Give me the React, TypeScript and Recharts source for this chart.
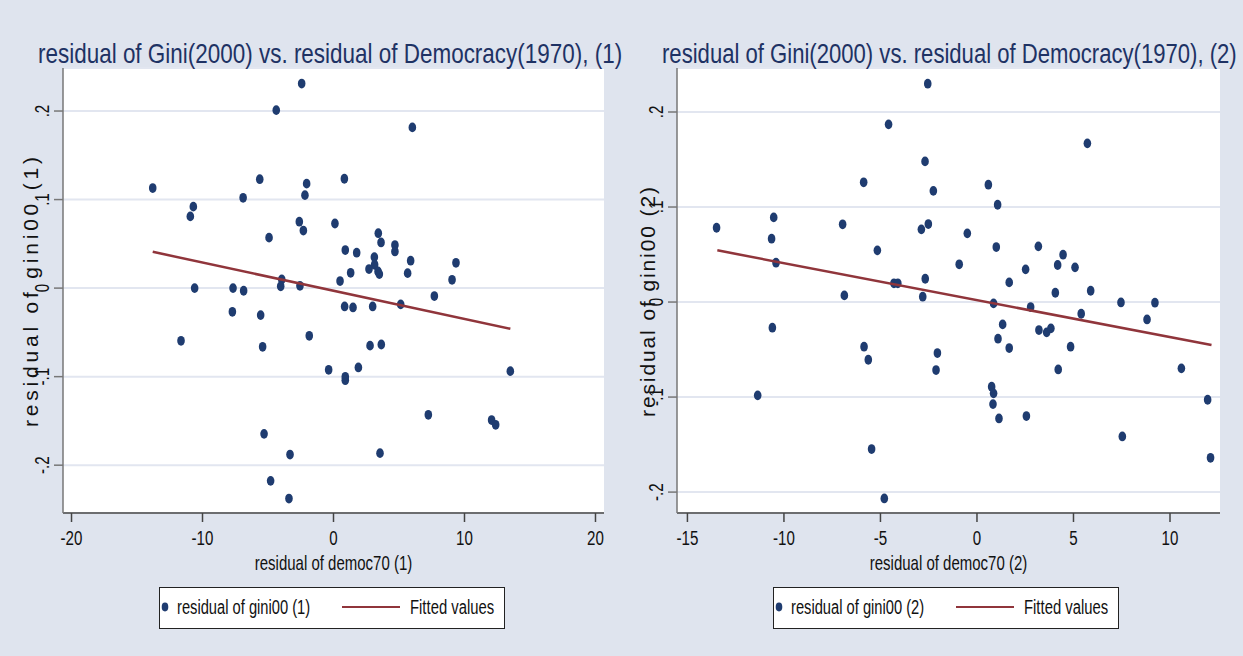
import React from "react";
import { ScatterChart, Scatter, XAxis, YAxis, CartesianGrid, Legend, Label } from "recharts";

const BG = "#dfe4ee";
const NAVY = "#1f3c70";
const MAROON = "#90353b";
const GRID = "#e2e6f0";
const FONT = "'Liberation Sans', Arial, sans-serif";

// panel (1): residual of democ70 (x) vs residual of gini00 (y)
const democ1 = [
  -13.8, -10.7, -10.93, -6.9, -5.63, -4.92, -4.37, -2.43, -2.05, -2.18, -2.61, -2.3, 0.11, -10.6, -7.67, -6.86,
  -3.95, -4.03, -2.56, 0.5, 6.02, 0.83, 3.42, 3.63, 0.9, 1.77, 4.69, 4.69, 3.12, 3.14, 2.71, 3.4, 3.5, 5.89, 5.66,
  1.31, 9.35, 9.05, 7.7, -7.72, -5.56, -11.64, -5.41, -1.85, -0.37, -5.3, -3.32, -4.8, -3.4, 0.85, 1.49, 2.99,
  5.13, 2.79, 3.65, 0.9, 0.9, 1.9, 13.5, 7.24, 12.07, 12.38, 3.55,
];
const gini1 = [
  0.113, 0.092, 0.081, 0.102, 0.123, 0.057, 0.201, 0.231, 0.118, 0.105, 0.075, 0.065, 0.073, 0.0, 0.0, -0.003,
  0.0098, 0.002, 0.0026, 0.008, 0.1815, 0.1235, 0.062, 0.0516, 0.043, 0.04, 0.0486, 0.0414, 0.035, 0.0264, 0.0215,
  0.0188, 0.0158, 0.031, 0.0169, 0.0173, 0.0286, 0.0094, -0.009, -0.0268, -0.0305, -0.0595, -0.0663, -0.0539,
  -0.0923, -0.1646, -0.188, -0.2177, -0.2377, -0.0207, -0.0218, -0.0207, -0.0184, -0.065, -0.0637, -0.1002, -0.104,
  -0.0896, -0.0938, -0.1431, -0.149, -0.1544, -0.1864,
];
const fitX1 = [-13.8, 13.5];
const fitY1 = [0.041, -0.046];

// panel (2)
const democ2 = [
  -13.49, -10.53, -10.64, -10.41, -6.96, -5.87, -5.16, -4.58, -4.3, -4.1, -2.69, -2.26, -2.55, -2.88, -2.52, -2.68,
  -2.81, -6.87, -0.92, 5.72, 0.59, 1.07, -0.5, 1.0, 3.18, 2.52, 1.67, 4.18, 4.46, 5.08, 4.06, 5.89, -10.6, -5.85,
  -5.63, -2.05, -2.12, -11.36, -5.46, -4.8, 0.86, 2.78, 7.46, 9.22, 5.4, 8.81, 1.33, 1.09, 1.67, 3.21, 3.61, 3.83,
  4.85, 4.21, 10.59, 0.76, 0.86, 0.83, 1.14, 2.56, 7.53, 11.95, 12.1,
];
const gini2 = [
  0.0782, 0.0891, 0.0667, 0.0414, 0.0818, 0.126, 0.0544, 0.187, 0.0197, 0.0197, 0.148, 0.117, 0.2298, 0.0765,
  0.0821, 0.0245, 0.0056, 0.007, 0.0397, 0.167, 0.1235, 0.1024, 0.0723, 0.0579, 0.0586, 0.0344, 0.0207, 0.039,
  0.0498, 0.0365, 0.0098, 0.0119, -0.027, -0.047, -0.0607, -0.0537, -0.0716, -0.0982, -0.1547, -0.2067, -0.0014,
  -0.0053, -0.0004, -0.0007, -0.0123, -0.0183, -0.0235, -0.0386, -0.0484, -0.0295, -0.0319, -0.0277, -0.047,
  -0.0709, -0.0698, -0.0891, -0.0961, -0.1074, -0.1225, -0.12, -0.1414, -0.1028, -0.1639,
];
const fitX2 = [-13.45, 12.15];
const fitY2 = [0.0544, -0.0453];

const xTicks1 = [-20, -10, 0, 10, 20];
const xTicks2 = [-15, -10, -5, 0, 5, 10];
const yTicks = [-0.2, -0.1, 0, 0.1, 0.2];
const yTickLabels = ["-.2", "-.1", "0", ".1", ".2"];

const zip = (xs: number[], ys: number[]) => xs.map((x, i) => ({ x, y: ys[i] }));

const Dot = (p: any) => <ellipse cx={p.cx} cy={p.cy} rx={3.8} ry={4.9} fill={NAVY} />;

// Stata text in this export is horizontally squeezed
const Narrow = ({ x, y, sx, size, anchor, fill, children }: any) => (
  <text
    transform={`translate(${x},${y}) scale(${sx},1)`}
    textAnchor={anchor || "start"}
    fontSize={size}
    fontFamily={FONT}
    fill={fill || "#111"}
  >
    {children}
  </text>
);

const XTick = (p: any) => (
  <Narrow x={p.x} y={p.y + 21} sx={0.72} size={21} anchor="middle">
    {p.payload.value}
  </Narrow>
);

const YTick = (p: any) => {
  const i = yTicks.indexOf(p.payload.value);
  return (
    <g transform={`translate(${p.x - 3.5},${p.y}) rotate(-90)`}>
      <Narrow x={0} y={0} sx={0.72} size={21} anchor="middle">
        {yTickLabels[i]}
      </Narrow>
    </g>
  );
};

type PanelProps = {
  n: string;
  left: number;
  width: number;
  democ: number[];
  gini: number[];
  fitX: number[];
  fitY: number[];
  xTicks: number[];
  xDomain: [number, number];
  yDomain: [number, number];
  yAxisW: number;
  marginRight: number;
  yTitleX: number;
  yTitleY: number;
  yTitleLen: number;
  xTitleX: number;
  legendLeft: number;
};

function LegendBox({ n }: { n: string }) {
  return (
    <svg width={346} height={42} style={{ display: "block" }}>
      <rect x={0.5} y={0.5} width={345} height={41} fill="#fff" stroke="#222" strokeWidth={1} />
      <ellipse cx={6} cy={20} rx={3.3} ry={4.4} fill={NAVY} />
      <Narrow x={18} y={27} sx={0.735} size={20}>{`residual of gini00 (${n})`}</Narrow>
      <line x1={183} x2={241} y1={20} y2={20} stroke={MAROON} strokeWidth={2} />
      <Narrow x={251} y={27} sx={0.743} size={20}>Fitted values</Narrow>
    </svg>
  );
}

function Panel(props: PanelProps) {
  const pts = zip(props.democ, props.gini);
  const fit = zip(props.fitX, props.fitY);
  return (
    <div style={{ position: "absolute", left: props.left, top: 0, width: props.width, height: 656 }}>
      <ScatterChart
        width={props.width}
        height={656}
        margin={{ top: 68, right: props.marginRight, bottom: 93, left: 0 }}
      >
        <CartesianGrid vertical={false} fill="#fff" stroke={GRID} strokeWidth={2} />
        <XAxis
          type="number"
          dataKey="x"
          domain={props.xDomain}
          ticks={props.xTicks}
          allowDataOverflow
          height={50}
          tickSize={9}
          stroke="#444"
          strokeWidth={1.5}
          tick={<XTick />}
        >
          <Label
            content={() => (
              <Narrow x={props.xTitleX} y={570} sx={0.714} size={21} anchor="middle">
                {`residual of democ70 (${props.n})`}
              </Narrow>
            )}
          />
        </XAxis>
        <YAxis
          type="number"
          dataKey="y"
          domain={props.yDomain}
          ticks={yTicks}
          allowDataOverflow
          width={props.yAxisW}
          tickSize={9}
          stroke="#777"
          strokeWidth={1.5}
          tick={<YTick />}
        >
          <Label
            content={() => (
              <g transform={`translate(${props.yTitleX},${props.yTitleY}) rotate(-90)`}>
                <text
                  x={-props.yTitleLen / 2}
                  y={0}
                  fontSize={21}
                  fontFamily={FONT}
                  fill="#111"
                  textLength={props.yTitleLen}
                  lengthAdjust="spacing"
                >
                  {`residual of gini00 (${props.n})`}
                </text>
              </g>
            )}
          />
        </YAxis>
        <Legend
          layout="horizontal"
          verticalAlign="middle"
          align="center"
          wrapperStyle={{ left: props.legendLeft, top: 587, width: 346, height: 42 }}
          content={() => <LegendBox n={props.n} />}
        />
        <Scatter
          name={`residual of gini00 (${props.n})`}
          data={pts}
          fill={NAVY}
          shape={Dot}
          isAnimationActive={false}
        />
        <Scatter
          name="Fitted values"
          data={fit}
          fill={MAROON}
          line={{ stroke: MAROON, strokeWidth: 2.5 }}
          shape={() => <g />}
          isAnimationActive={false}
        />
      </ScatterChart>
    </div>
  );
}

export default function App() {
  return (
    <div style={{ position: "absolute", left: 0, top: 0, width: 1243, height: 656, background: BG, overflow: "hidden" }}>
      <Panel
        n="1"
        left={0}
        width={621}
        democ={democ1}
        gini={gini1}
        fitX={fitX1}
        fitY={fitY1}
        xTicks={xTicks1}
        xDomain={[-20.65, 20.65]}
        yDomain={[-0.254, 0.2486]}
        yAxisW={63}
        marginRight={17}
        yTitleX={38}
        yTitleY={292}
        yTitleLen={270}
        xTitleX={333.5}
        legendLeft={159}
      />
      <Panel
        n="2"
        left={621}
        width={622}
        democ={democ2}
        gini={gini2}
        fitX={fitX2}
        fitY={fitY2}
        xTicks={xTicks2}
        xDomain={[-15.54, 12.59]}
        yDomain={[-0.222, 0.2463]}
        yAxisW={56}
        marginRight={23}
        yTitleX={34}
        yTitleY={302}
        yTitleLen={230}
        xTitleX={327.5}
        legendLeft={152}
      />
      <svg
        width={1243}
        height={90}
        style={{ position: "absolute", left: 0, top: 0, pointerEvents: "none" }}
      >
        <Narrow x={38} y={63} sx={0.832} size={27} fill="#1e3264">
          residual of Gini(2000) vs. residual of Democracy(1970), (1)
        </Narrow>
        <Narrow x={662} y={63} sx={0.819} size={27} fill="#1e3264">
          residual of Gini(2000) vs. residual of Democracy(1970), (2)
        </Narrow>
      </svg>
    </div>
  );
}
